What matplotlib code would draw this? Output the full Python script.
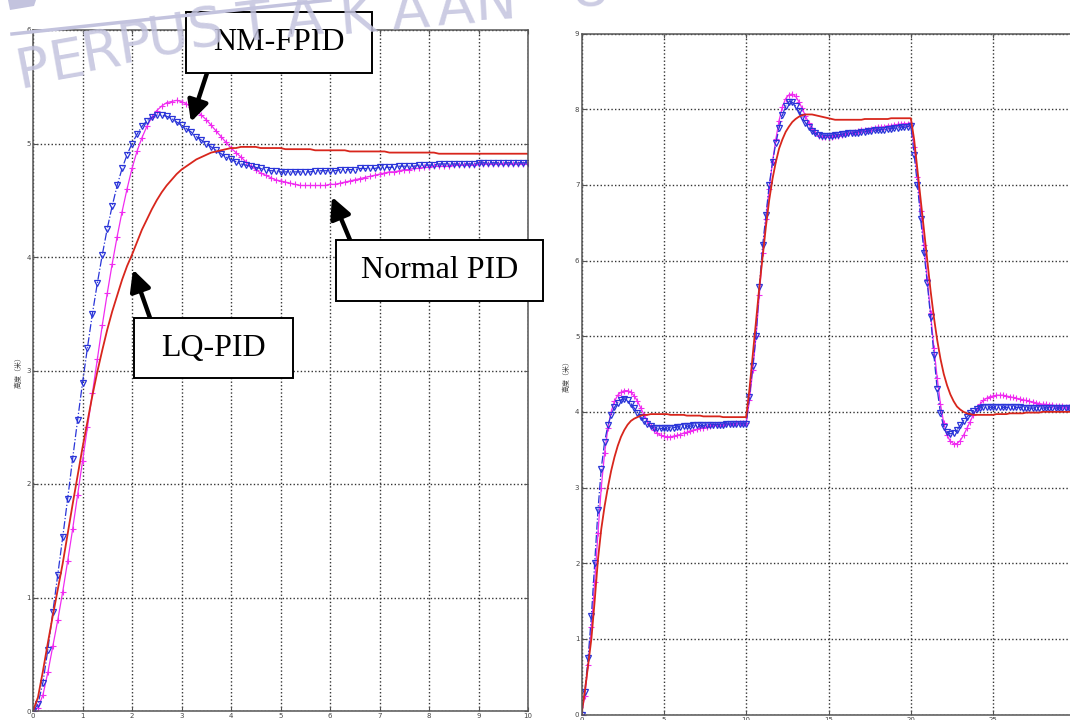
import numpy as np
import matplotlib
matplotlib.use("Agg")
import matplotlib.pyplot as plt
from matplotlib.patches import Rectangle, Polygon
from matplotlib.lines import Line2D

W, H = 1070, 720

# left panel: single step, sampled every 0.1 s
left_dt = 0.1
left_lq = [
    0, 0.12, 0.35, 0.6, 0.84, 1.07, 1.3, 1.56, 1.82, 2.07,
    2.32, 2.55, 2.78, 2.99, 3.18, 3.36, 3.52, 3.66, 3.8, 3.92,
    4.02, 4.13, 4.24, 4.33, 4.42, 4.5, 4.57, 4.63, 4.68, 4.73,
    4.77, 4.8, 4.83, 4.86, 4.88, 4.9, 4.92, 4.93, 4.94, 4.95,
    4.96, 4.96, 4.97, 4.97, 4.97, 4.97, 4.96, 4.96, 4.96, 4.96,
    4.96, 4.95, 4.95, 4.95, 4.95, 4.95, 4.95, 4.94, 4.94, 4.94,
    4.94, 4.94, 4.94, 4.94, 4.93, 4.93, 4.93, 4.93, 4.93, 4.93,
    4.93, 4.93, 4.92, 4.92, 4.92, 4.92, 4.92, 4.92, 4.92, 4.92,
    4.92, 4.92, 4.91, 4.91, 4.91, 4.91, 4.91, 4.91, 4.91, 4.91,
    4.91, 4.91, 4.91, 4.91, 4.91, 4.91, 4.91, 4.91, 4.91, 4.91,
    4.91,
]
left_pid = [
    0, 0.03, 0.14, 0.34, 0.57, 0.8, 1.05, 1.32, 1.6, 1.9,
    2.2, 2.5, 2.8, 3.1, 3.4, 3.68, 3.94, 4.18, 4.4, 4.6,
    4.78, 4.93, 5.05, 5.15, 5.23, 5.29, 5.33, 5.36, 5.37, 5.38,
    5.37, 5.35, 5.32, 5.29, 5.25, 5.21, 5.16, 5.11, 5.06, 5.01,
    4.96, 4.92, 4.88, 4.84, 4.8, 4.77, 4.74, 4.72, 4.7, 4.68,
    4.67, 4.66, 4.65, 4.64, 4.63, 4.63, 4.63, 4.63, 4.63, 4.63,
    4.64, 4.64, 4.65, 4.66, 4.67, 4.68, 4.69, 4.7, 4.71, 4.72,
    4.73, 4.74, 4.75, 4.75, 4.76, 4.77, 4.77, 4.78, 4.78, 4.79,
    4.79, 4.8, 4.8, 4.8, 4.8, 4.81, 4.81, 4.81, 4.81, 4.81,
    4.82, 4.82, 4.82, 4.82, 4.82, 4.82, 4.82, 4.82, 4.82, 4.82,
    4.82,
]
left_nm = [
    0, 0.06, 0.25, 0.54, 0.87, 1.2, 1.53, 1.87, 2.22, 2.56,
    2.89, 3.2, 3.5, 3.77, 4.02, 4.25, 4.45, 4.63, 4.78, 4.9,
    5.0, 5.08, 5.15, 5.2, 5.23, 5.25, 5.25, 5.24, 5.22, 5.19,
    5.16, 5.13, 5.1, 5.06, 5.03, 5.0, 4.97, 4.94, 4.91, 4.88,
    4.86, 4.84, 4.82, 4.81, 4.8, 4.79, 4.78, 4.77, 4.76, 4.76,
    4.75, 4.75, 4.75, 4.75, 4.75, 4.75, 4.75, 4.76, 4.76, 4.76,
    4.76, 4.76, 4.77, 4.77, 4.77, 4.77, 4.78, 4.78, 4.78, 4.78,
    4.79, 4.79, 4.79, 4.79, 4.8, 4.8, 4.8, 4.8, 4.81, 4.81,
    4.81, 4.81, 4.82, 4.82, 4.82, 4.82, 4.82, 4.82, 4.82, 4.82,
    4.83, 4.83, 4.83, 4.83, 4.83, 4.83, 4.83, 4.83, 4.83, 4.83,
    4.83,
]

# right panel: 4 -> 8 -> 4 steps, sampled every 0.2 s
right_dt = 0.2
right_lq = [
    0, 0.3, 0.65, 1.0, 1.5, 2.05, 2.45, 2.75, 3.0, 3.22,
    3.4, 3.55, 3.67, 3.76, 3.83, 3.88, 3.91, 3.93, 3.95, 3.96,
    3.96, 3.97, 3.97, 3.97, 3.97, 3.97, 3.97, 3.96, 3.96, 3.96,
    3.96, 3.96, 3.95, 3.95, 3.95, 3.95, 3.95, 3.94, 3.94, 3.94,
    3.94, 3.94, 3.94, 3.93, 3.93, 3.93, 3.93, 3.93, 3.93, 3.93,
    3.93, 4.3, 4.75, 5.2, 5.65, 6.05, 6.45, 6.8, 7.08, 7.3,
    7.48, 7.6, 7.7, 7.77, 7.83, 7.87, 7.9, 7.92, 7.93, 7.93,
    7.93, 7.92, 7.91, 7.9, 7.89, 7.88, 7.87, 7.86, 7.86, 7.86,
    7.86, 7.86, 7.86, 7.86, 7.86, 7.86, 7.87, 7.87, 7.87, 7.87,
    7.87, 7.87, 7.87, 7.87, 7.88, 7.88, 7.88, 7.88, 7.88, 7.88,
    7.88, 7.6, 7.2, 6.8, 6.4, 6.0, 5.6, 5.25, 4.95, 4.7,
    4.5, 4.35, 4.23, 4.14, 4.07, 4.03, 4.0, 3.98, 3.97, 3.96,
    3.96, 3.96, 3.96, 3.96, 3.96, 3.96, 3.97, 3.97, 3.97, 3.97,
    3.98, 3.98, 3.98, 3.98, 3.98, 3.99, 3.99, 3.99, 3.99, 3.99,
    4.0, 4.0, 4.0, 4.0, 4.0, 4.0, 4.0, 4.0, 4.0, 4.0,
    4.0,
]
right_pid = [
    0, 0.25, 0.65, 1.15, 1.75, 2.4, 3.0, 3.45, 3.78, 4.0,
    4.14, 4.22, 4.26, 4.28, 4.28, 4.26, 4.21, 4.14, 4.05, 3.96,
    3.88, 3.81, 3.76, 3.72, 3.69, 3.68, 3.67, 3.67, 3.68, 3.69,
    3.7, 3.72, 3.73, 3.75, 3.76, 3.77, 3.78, 3.79, 3.8, 3.81,
    3.82, 3.82, 3.83, 3.83, 3.84, 3.84, 3.84, 3.85, 3.85, 3.85,
    3.85, 4.15, 4.55, 5.0, 5.55, 6.1, 6.55, 6.95, 7.3, 7.6,
    7.85, 8.03, 8.14, 8.19, 8.2, 8.17, 8.1, 8.01, 7.91, 7.82,
    7.74, 7.69, 7.65, 7.63, 7.63, 7.63, 7.63, 7.64, 7.65, 7.66,
    7.67, 7.68, 7.69, 7.7, 7.71, 7.72, 7.72, 7.73, 7.74, 7.75,
    7.76, 7.76, 7.77, 7.78, 7.78, 7.79, 7.8, 7.8, 7.81, 7.81,
    7.82, 7.5, 7.1, 6.65, 6.2, 5.75, 5.3, 4.85, 4.45, 4.1,
    3.85, 3.69, 3.61, 3.58, 3.58, 3.62, 3.69, 3.78, 3.87, 3.96,
    4.04, 4.1, 4.15, 4.18, 4.2, 4.21, 4.22, 4.22, 4.22, 4.21,
    4.2, 4.19, 4.18, 4.17, 4.16, 4.15, 4.14, 4.13, 4.12, 4.11,
    4.1, 4.1, 4.09, 4.09, 4.08, 4.08, 4.08, 4.07, 4.07, 4.07,
    4.07,
]
right_nm = [
    0, 0.3, 0.75, 1.3, 2.0, 2.7, 3.25, 3.6, 3.82, 3.96,
    4.06, 4.12, 4.16, 4.17, 4.15, 4.11, 4.05, 3.99, 3.93, 3.88,
    3.84, 3.81, 3.79, 3.78, 3.78, 3.78, 3.78, 3.79, 3.79, 3.8,
    3.8, 3.81, 3.81, 3.81, 3.82, 3.82, 3.82, 3.82, 3.83, 3.83,
    3.83, 3.83, 3.83, 3.83, 3.84, 3.84, 3.84, 3.84, 3.84, 3.84,
    3.84, 4.2, 4.6, 5.0, 5.65, 6.2, 6.6, 7.0, 7.3, 7.55,
    7.75, 7.92, 8.04, 8.1, 8.09, 8.04, 7.97, 7.89, 7.82, 7.76,
    7.71, 7.68, 7.66, 7.65, 7.65, 7.65, 7.65, 7.66, 7.66, 7.67,
    7.67, 7.68, 7.68, 7.69, 7.69, 7.7, 7.7, 7.71, 7.71, 7.72,
    7.72, 7.73, 7.73, 7.74, 7.74, 7.75, 7.75, 7.76, 7.76, 7.77,
    7.78, 7.4, 7.0, 6.55, 6.1, 5.7, 5.25, 4.75, 4.3, 3.98,
    3.8, 3.73, 3.71, 3.72, 3.76, 3.82, 3.88, 3.93, 3.98, 4.01,
    4.04, 4.05, 4.06, 4.06, 4.06, 4.06, 4.06, 4.06, 4.06, 4.06,
    4.06, 4.06, 4.06, 4.06, 4.05, 4.05, 4.05, 4.05, 4.05, 4.05,
    4.05, 4.05, 4.05, 4.05, 4.05, 4.05, 4.05, 4.05, 4.05, 4.05,
    4.05,
]

left_xticks = list(range(0, 11))
left_yticks = list(range(0, 7))
right_xticks = list(range(0, 31, 5))
right_yticks = list(range(0, 10))
ylabel = "高度（米）"

# callouts on the left panel: label, box (px from top-left), arrow tail (px), arrow tip (data)
callouts = [
    ("NM-FPID", (186, 12, 372, 73), (207, 73), (3.19, 5.19)),
    ("Normal PID", (336, 240, 543, 301), (350, 240), (6.04, 4.53)),
    ("LQ-PID", (134, 318, 293, 378), (150, 318), (2.02, 3.89)),
]

# watermark letters along an arc: (char, x px, y px, rotation)
watermark = [
    ("P", 33, 70, 11), ("E", 67, 62, 10), ("R", 101, 53, 10),
    ("P", 135, 45, 9), ("U", 168, 38, 9), ("S", 206, 31, 8),
    ("T", 254, 25, 7), ("A", 304, 20, 6), ("K", 357, 17, 5),
    ("A", 410, 12, 4), ("A", 455, 8, 4), ("N", 495, 4, 3),
    ("U", 590, -10, 2),
]

RED = "#d8261c"
MAG = "#f02cf0"
BLUE = "#2a35d8"
WM = "#c3c3de"


def fig_frac(x, y):
    return x / W, 1 - y / H


def style_axes(ax, xticks, yticks):
    ax.set_xticks(xticks)
    ax.set_yticks(yticks)
    ax.grid(True, color="#333333", linestyle=(0, (1, 1.6)), linewidth=1.0)
    ax.tick_params(direction="in", top=True, right=True, length=3,
                   width=0.8, color="#555555", labelsize=5,
                   labelcolor="#444444", pad=1.5)
    for s in ax.spines.values():
        s.set_color("#555555")
        s.set_linewidth(1.1)
    ax.set_ylabel(ylabel, fontsize=5, family=["Noto Sans CJK SC", "DejaVu Sans"],
                  color="#444444", labelpad=3)


fig = plt.figure(figsize=(W / 100, H / 100), dpi=100)
fig.patch.set_facecolor("white")

# left panel
ax1 = fig.add_axes([33 / W, 1 - 711 / H, 495 / W, 681 / H])
ax1.plot(np.arange(len(left_pid)) * left_dt, left_pid, color=MAG, lw=0.9,
         marker="+", ms=4.5, mew=0.8)
ax1.plot(np.arange(len(left_nm)) * left_dt, left_nm, color=BLUE, lw=0.9,
         linestyle="-.", marker="v", ms=4.5, mfc="none", mew=0.9)
ax1.plot(np.arange(len(left_lq)) * left_dt, left_lq, color=RED, lw=1.3)
ax1.set_xlim(0, 10)
ax1.set_ylim(0, 6)
style_axes(ax1, left_xticks, left_yticks)

# right panel (runs past the right edge of the picture)
ax2 = fig.add_axes([581.5 / W, 1 - 714.5 / H, 494 / W, 681 / H])
ax2.plot(np.arange(len(right_pid)) * right_dt, right_pid, color=MAG, lw=0.9,
         marker="+", ms=4.5, mew=0.8)
ax2.plot(np.arange(len(right_nm)) * right_dt, right_nm, color=BLUE, lw=0.9,
         linestyle="-.", marker="v", ms=4.5, mfc="none", mew=0.9)
ax2.plot(np.arange(len(right_lq)) * right_dt, right_lq, color=RED, lw=1.3)
ax2.set_xlim(0, 30)
ax2.set_ylim(0, 9)
style_axes(ax2, right_xticks, right_yticks)

# callout boxes and arrows
for label, (x0, y0, x1, y1), tail, tip in callouts:
    bx, by = fig_frac(x0, y1)
    fig.add_artist(Rectangle((bx, by), (x1 - x0) / W, (y1 - y0) / H,
                             transform=fig.transFigure, facecolor="white",
                             edgecolor="black", lw=1.4, zorder=10))
    cx, cy = fig_frac((x0 + x1) / 2, (y0 + y1) / 2)
    fig.text(cx, cy, label, ha="center", va="center", fontsize=23,
             family="Liberation Serif", zorder=11)
    ax1.annotate("", xy=tip, xycoords="data", xytext=fig_frac(*tail),
                 textcoords="figure fraction", annotation_clip=False,
                 arrowprops=dict(arrowstyle="-|>,head_length=0.9,head_width=0.45",
                                 color="black", lw=3.2, mutation_scale=14,
                                 shrinkA=0, shrinkB=0), zorder=12)

# library watermark across the top
fig.add_artist(Line2D([12 / W, 330 / W], [1 - 34 / H, 1 - 0 / H],
                      transform=fig.transFigure, color=WM, lw=2.5, zorder=20))
fig.add_artist(Polygon([fig_frac(8, 0), fig_frac(36, 0), fig_frac(34, 6), fig_frac(10, 10)],
                       closed=True, transform=fig.transFigure, facecolor=WM,
                       edgecolor="none", zorder=20))
for ch, x, y, rot in watermark:
    fig.text(*fig_frac(x, y), ch, ha="center", va="center", fontsize=40,
             color=WM, alpha=0.85, rotation=rot, zorder=21,
             family=["Liberation Sans Narrow", "DejaVu Sans"])

fig.savefig("out.png", dpi=100)
plt.close("all")
